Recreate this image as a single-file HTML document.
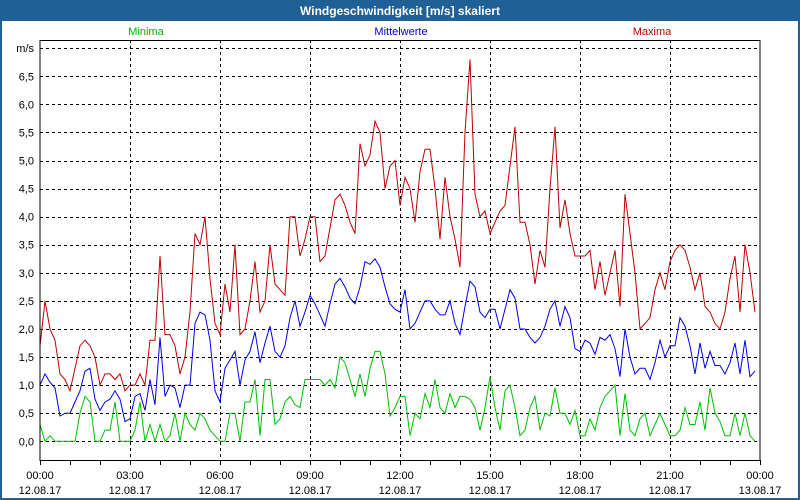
<!DOCTYPE html>
<html><head><meta charset="utf-8"><style>
body{margin:0;background:#fff;}
#win{position:absolute;left:0;top:0;width:796px;height:476px;border:2px solid #1f6196;border-top:none;}
svg text{font-family:"Liberation Sans",sans-serif;font-size:11px;}
</style></head><body>
<svg id="chart" width="800" height="500" xmlns="http://www.w3.org/2000/svg" style="position:absolute;left:0;top:0">
<rect x="0" y="0" width="800" height="500" fill="#1f6196"/>
<rect x="2" y="21" width="796" height="477" fill="#fff"/>
<text x="400" y="15" text-anchor="middle" fill="#fff" font-weight="bold" style="font-size:12px">Windgeschwindigkeit [m/s] skaliert</text>
<text x="146" y="35" text-anchor="middle" fill="#00b000">Minima</text>
<text x="401" y="35" text-anchor="middle" fill="#0000e0">Mittelwerte</text>
<text x="652" y="35" text-anchor="middle" fill="#c00000">Maxima</text>
<g id="grid"></g><g id="series"></g>
<rect x="40" y="40.5" width="720" height="420" fill="none" stroke="#000"/>
</svg>
<script>
const timeStepHours = 1/6;
const maxima = [1.7,2.5,2.0,1.8,1.2,1.1,0.9,1.3,1.7,1.8,1.7,1.5,1.0,1.2,1.2,1.1,1.2,0.9,1.0,1.0,1.2,1.0,1.8,1.8,
3.3,1.9,1.9,1.7,1.2,1.5,2.3,3.7,3.5,4.0,2.9,2.1,1.9,2.8,2.3,3.5,1.9,2.0,2.5,3.2,2.3,2.5,3.5,
2.8,2.7,2.6,4.0,4.0,3.3,3.6,4.0,4.0,3.2,3.3,3.8,4.3,4.4,4.2,3.9,3.7,5.3,4.9,5.1,5.7,5.5,4.5,4.9,5.0,4.2,4.7,4.5,3.9,4.8,5.2,5.2,4.5,3.6,4.7,4.0,3.6,3.1,5.5,6.8,4.4,4.0,4.1,3.7,3.9,4.1,4.2,4.9,5.6,3.9,3.9,3.5,
2.8,3.4,3.1,4.5,5.6,3.8,4.3,3.7,3.3,3.3,3.3,3.4,2.7,3.2,2.6,3.0,3.4,2.4,4.4,3.7,3.0,2.0,2.1,2.2,2.7,3.0,2.7,3.2,3.4,3.5,3.4,3.1,2.7,3.0,2.4,2.3,2.1,2.0,2.3,2.9,3.3,2.3,3.5,3.0,2.3];
const mittelwerte = [1.0,1.2,1.05,0.95,0.45,0.5,0.5,0.7,0.9,1.25,1.3,0.75,0.55,0.7,0.75,0.9,0.75,0.35,0.4,0.8,0.85,0.55,1.1,0.65,
1.85,0.8,1.0,0.95,0.6,1.0,1.0,2.1,2.3,2.25,1.8,0.9,0.7,1.3,1.45,1.6,1.0,1.45,1.6,1.95,1.4,1.75,2.05,
1.6,1.5,1.7,2.2,2.5,2.05,2.3,2.6,2.45,2.25,2.05,2.45,2.8,2.9,2.75,2.55,2.45,2.75,3.2,3.15,3.25,3.1,2.75,2.45,2.35,2.3,2.7,2.0,2.1,2.3,2.5,2.5,2.35,2.25,2.25,2.5,2.1,1.9,2.4,2.85,2.75,2.3,2.2,2.35,2.35,2.0,2.35,2.7,2.55,2.0,2.0,1.85,
1.75,1.85,2.05,2.35,2.5,2.05,2.4,2.2,1.65,1.6,1.8,1.75,1.55,1.85,1.8,1.9,1.65,1.15,2.0,1.5,1.2,1.3,1.3,1.1,1.4,1.8,1.5,1.7,1.7,2.2,2.05,1.7,1.2,1.75,1.3,1.6,1.35,1.35,1.2,1.4,1.75,1.2,1.8,1.15,1.25];
const minima = [0.3,0.0,0.1,0.0,0,0,0,0,0.5,0.8,0.7,0.0,0.0,0.2,0.2,0.7,0.0,0,0,0.2,0.7,0.0,0.3,0.0,
0.3,0.0,0.1,0.5,0.0,0.5,0.3,0.2,0.5,0.4,0.2,0.1,0.0,0.0,0.5,0.5,0.0,0.7,0.7,1.1,0.1,1.1,1.1,
0.3,0.4,0.7,0.8,0.65,0.6,1.1,1.1,1.1,1.1,1.0,1.1,0.95,1.5,1.4,1.1,0.8,1.2,0.8,1.3,1.6,1.6,1.2,0.45,0.6,0.8,0.8,0.1,0.5,0.4,0.85,0.6,1.1,0.6,0.5,0.85,0.6,0.8,0.8,0.75,0.6,0.2,0.6,1.15,0.6,0.2,0.9,1.0,0.6,0.1,0.2,0.6,
0.8,0.2,0.5,0.45,0.95,0.5,0.5,0.3,0.55,0.1,0.1,0.4,0.2,0.6,0.8,0.9,1.0,0.1,0.85,0.2,0.1,0.4,0.5,0.1,0.3,0.5,0.3,0.1,0.1,0.2,0.6,0.3,0.3,0.7,0.2,0.95,0.5,0.35,0.1,0.1,0.5,0.1,0.5,0.1,0.0];
const yTicks = ["0,0","0,5","1,0","1,5","2,0","2,5","3,0","3,5","4,0","4,5","5,0","5,5","6,0","6,5"];
const xTickTimes = ["00:00","03:00","06:00","09:00","12:00","15:00","18:00","21:00","00:00"];
const xTickDates = ["12.08.17","12.08.17","12.08.17","12.08.17","12.08.17","12.08.17","12.08.17","12.08.17","13.08.17"];

const NS="http://www.w3.org/2000/svg";
const xOf = h => 40 + h*30;
const yOf = v => 441.3 - v*56.16;
function mk(tag, attrs, parent){const e=document.createElementNS(NS,tag);for(const k in attrs)e.setAttribute(k,attrs[k]);parent.appendChild(e);return e;}
const grid=document.getElementById('grid'), ser=document.getElementById('series');
for(let i=0;i<=14;i++){
  const y=Math.round(yOf(i*0.5))+0.5;
  const l=mk('line',{x1:40,x2:760,y1:y,y2:y,stroke:'#000','stroke-dasharray':'3,3'},grid);
  
  
}
yTicks.forEach((t,i)=>{
  const e=mk('text',{x:34,y:yOf(i*0.5)+4,'text-anchor':'end'},grid);e.textContent=t;
  
  
});
const u=mk('text',{x:34,y:yOf(7)+4,'text-anchor':'end'},grid);u.textContent='m/s';


for(let h=0;h<=24;h++){
  const x=Math.round(xOf(h))+0.5;
  const t=mk('line',{x1:x,x2:x,y1:460,y2:465,stroke:'#000'},grid);
  
  
}
xTickTimes.forEach((t,i)=>{
  const x=xOf(i*3);
  if(i>0&&i<8){
    const g=mk('line',{x1:Math.round(x)+0.5,x2:Math.round(x)+0.5,y1:40,y2:460,stroke:'#000','stroke-dasharray':'3,3'},grid);
    
    
  }
  const a=mk('text',{x:x,y:479,'text-anchor':'middle'},grid);a.textContent=t;
  
  
  const b=mk('text',{x:x,y:494,'text-anchor':'middle'},grid);b.textContent=xTickDates[i];
  
  
});
function line(arr,color,name){
  const pts=arr.map((v,i)=>xOf(i*timeStepHours).toFixed(1)+','+yOf(v).toFixed(1)).join(' ');
  const p=mk('polyline',{points:pts,fill:'none',stroke:color,'stroke-width':1},ser);
  
  
}
line(minima,'#00c000','minima-line');
line(mittelwerte,'#0000f0','mittelwerte-line');
line(maxima,'#c00000','maxima-line');
</script>
</body></html>
